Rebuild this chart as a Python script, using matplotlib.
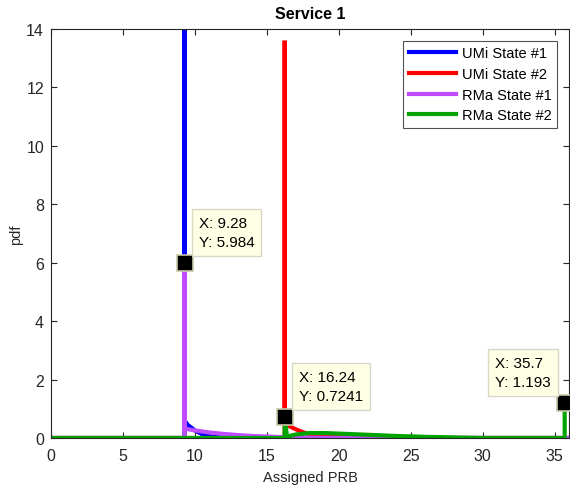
import matplotlib
matplotlib.use("Agg")
import matplotlib.pyplot as plt

plt.rcParams['font.family'] = ['Liberation Sans', 'DejaVu Sans']

# ---- data ----
umi1_x = [0, 9.28, 9.28, 9.28, 9.5, 10.0, 10.5, 11.0, 11.5, 12.0, 13.0, 15.0, 20.0, 36.0]
umi1_y = [0, 0, 20.0, 0.60, 0.45, 0.26, 0.13, 0.06, 0.03, 0.015, 0.0, 0.0, 0.0, 0.0]

umi2_x = [0, 16.24, 16.24, 16.24, 16.5, 17.0, 17.5, 18.0, 18.5, 19.0, 20.0, 22.0, 36.0]
umi2_y = [0, 0, 13.6, 0.50, 0.42, 0.30, 0.20, 0.13, 0.08, 0.05, 0.02, 0.0, 0.0]

rma1_x = [0, 9.28, 9.28, 9.28, 10.0, 11.0, 12.0, 13.0, 14.0, 15.0, 16.0, 17.0, 18.0, 20.0, 22.0, 36.0]
rma1_y = [0, 0, 5.984, 0.32, 0.26, 0.19, 0.14, 0.10, 0.07, 0.05, 0.03, 0.02, 0.01, 0.0, 0.0, 0.0]

rma2_x = [0, 16.24, 16.24, 16.4, 17.0, 18.0, 19.0, 20.0, 22.0, 24.0, 26.0, 28.0, 30.0, 35.7, 35.7]
rma2_y = [0, 0, 0.7241, 0.05, 0.12, 0.17, 0.17, 0.15, 0.11, 0.07, 0.04, 0.02, 0.0, 0.0, 1.193]

labels = ['UMi State #1', 'UMi State #2', 'RMa State #1', 'RMa State #2']
colors = ['#0000FF', '#FF0000', '#BF4DFF', '#00A300']

tips_x = [9.28, 16.24, 35.7]
tips_y = [5.984, 0.7241, 1.193]

# ---- figure ----
fig = plt.figure(figsize=(5.70, 4.89), dpi=100)
ax = fig.add_axes([51/570, 50/489, 518/570, 409/489])

series = [(umi1_x, umi1_y), (umi2_x, umi2_y), (rma1_x, rma1_y), (rma2_x, rma2_y)]
for (xs, ys), lab, c in zip(series, labels, colors):
    ax.plot(xs, ys, color=c, lw=3, label=lab, solid_joinstyle='miter')

ax.set_xlim(0, 36)
ax.set_ylim(0, 14)
ax.set_xticks(range(0, 36, 5))
ax.set_yticks(range(0, 15, 2))
ax.tick_params(direction='in', top=True, right=True, labelsize=11.5, length=4,
               colors='#262626', width=0.8)
ax.tick_params(axis='x', pad=7)
ax.tick_params(axis='y', pad=5)
for sp in ax.spines.values():
    sp.set_color('#262626')
    sp.set_linewidth(0.8)

ax.set_title('Service 1', fontsize=11.5, fontweight='bold', pad=8)
ax.set_xlabel('Assigned PRB', fontsize=10.5, color='#262626', labelpad=5)
ax.set_ylabel('pdf', fontsize=10.5, color='#262626', labelpad=2)

leg = ax.legend(loc='upper right', fontsize=10.5, frameon=True, fancybox=False,
                edgecolor='#262626', handlelength=3.2, borderaxespad=0.8,
                labelspacing=0.45, handletextpad=0.4, borderpad=0.4)
leg.get_frame().set_linewidth(0.8)

# data tips
offsets = [(14, 14, 'left'), (14, 14, 'left'), (-14, 14, 'right')]
for tx, ty, (dx, dy, ha) in zip(tips_x, tips_y, offsets):
    ax.plot([tx], [ty], marker='s', ms=11, mfc='black', mec='#C8C8A8', mew=1.2,
            clip_on=False, zorder=5)
    ax.annotate(f'X: {tx:g}\nY: {ty:g}', xy=(tx, ty), xytext=(dx, dy),
                textcoords='offset pixels', ha=ha, va='bottom', fontsize=11,
                multialignment='left', linespacing=1.45,
                bbox=dict(boxstyle='square,pad=0.45', fc='#FFFFE6', ec='#D8D8C8', lw=1),
                zorder=6, annotation_clip=False)

fig.savefig('out.png', dpi=100)
